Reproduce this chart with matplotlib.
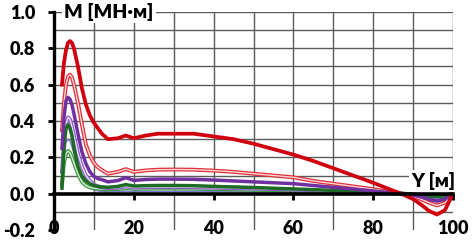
import numpy as np
import matplotlib
matplotlib.use('Agg')
import matplotlib.pyplot as plt

plt.rcParams['font.family'] = ['Lato', 'Noto Sans', 'DejaVu Sans']
plt.rcParams['font.weight'] = 'bold'

# distance along the span [m]
y_pos = [2, 2.5, 3, 3.5, 4, 4.5, 5, 6, 7, 8, 9, 10, 11, 12, 13.5, 16, 18, 20, 23, 26,
         30, 35, 40, 45, 50, 55, 60, 65, 70, 75, 80, 84, 87, 90, 92, 94, 96, 98, 99, 100]

# bending moment M [MN*m] for each load case
m_red = [0.60, 0.72, 0.79, 0.83, 0.84, 0.83, 0.80, 0.70, 0.58, 0.49, 0.43, 0.39, 0.36, 0.33,
         0.30, 0.305, 0.32, 0.305, 0.32, 0.33, 0.33, 0.33, 0.315, 0.30, 0.275, 0.245, 0.215,
         0.18, 0.14, 0.10, 0.06, 0.025, 0.0, -0.03, -0.06, -0.095, -0.115, -0.09, -0.045, 0.0]
m_red_thin = [0.35, 0.50, 0.60, 0.645, 0.655, 0.64, 0.60, 0.50, 0.38, 0.27, 0.21, 0.17, 0.145,
              0.13, 0.11, 0.12, 0.135, 0.12, 0.128, 0.132, 0.133, 0.132, 0.127, 0.12, 0.11,
              0.10, 0.09, 0.07, 0.055, 0.04, 0.025, 0.01, 0.0, -0.015, -0.03, -0.05, -0.065,
              -0.05, -0.025, 0.0]
m_purple = [0.25, 0.42, 0.51, 0.53, 0.52, 0.49, 0.44, 0.33, 0.23, 0.165, 0.12, 0.095, 0.083,
            0.077, 0.065, 0.072, 0.088, 0.073, 0.078, 0.08, 0.08, 0.079, 0.075, 0.07, 0.065,
            0.06, 0.055, 0.045, 0.035, 0.025, 0.015, 0.005, 0.0, -0.008, -0.018, -0.03, -0.04,
            -0.03, -0.015, 0.0]
m_purple_thin = [0.12, 0.28, 0.38, 0.42, 0.41, 0.37, 0.32, 0.22, 0.15, 0.10, 0.07, 0.05, 0.04,
                 0.035, 0.03, 0.033, 0.04, 0.033, 0.035, 0.036, 0.036, 0.035, 0.033, 0.03,
                 0.028, 0.025, 0.022, 0.018, 0.014, 0.01, 0.006, 0.002, 0.0, -0.01, -0.02,
                 -0.032, -0.04, -0.032, -0.018, 0.0]
m_blue = [0.08, 0.20, 0.28, 0.30, 0.29, 0.26, 0.22, 0.14, 0.08, 0.045, 0.03, 0.02, 0.015,
          0.012, 0.01, 0.011, 0.014, 0.011, 0.012, 0.012, 0.012, 0.012, 0.011, 0.01, 0.009,
          0.008, 0.007, 0.006, 0.005, 0.004, 0.003, 0.001, 0.0, -0.008, -0.015, -0.025,
          -0.03, -0.025, -0.012, 0.0]
m_green = [0.03, 0.26, 0.36, 0.38, 0.36, 0.32, 0.25, 0.15, 0.095, 0.07, 0.055, 0.045, 0.04,
           0.037, 0.035, 0.04, 0.05, 0.042, 0.044, 0.045, 0.045, 0.044, 0.04, 0.037, 0.034,
           0.03, 0.026, 0.022, 0.018, 0.014, 0.01, 0.005, 0.002, -0.003, -0.007, -0.012,
           -0.015, -0.012, -0.006, 0.0]
m_green_thin = [0.05, 0.17, 0.22, 0.235, 0.225, 0.20, 0.17, 0.11, 0.065, 0.045, 0.035, 0.03,
                0.027, 0.025, 0.023, 0.025, 0.03, 0.026, 0.027, 0.028, 0.028, 0.027, 0.025,
                0.023, 0.021, 0.019, 0.017, 0.014, 0.011, 0.008, 0.005, 0.002, 0.0, -0.004,
                -0.008, -0.013, -0.016, -0.013, -0.007, 0.0]

x_ticks = [0, 20, 40, 60, 80, 100]
y_ticks = [-0.2, 0.0, 0.2, 0.4, 0.6, 0.8, 1.0]

fig = plt.figure(figsize=(4.73, 2.4), dpi=100)
ax = fig.add_axes([54 / 473, 10 / 240, 399 / 473, 218 / 240])
ax.set_xlim(0, 100)
ax.set_ylim(-0.2, 1.0)

# grid: horizontal every 0.1, vertical every 10 (the 20-step ones stop at the axis)
for g in np.arange(-0.1, 1.01, 0.1):
    if abs(g) > 1e-6:
        ax.axhline(g, color='#5a5a5a', lw=1.0, zorder=0)
for g in range(10, 101, 10):
    if g % 20:
        ax.axvline(g, color='#5a5a5a', lw=1.0, zorder=0)
    else:
        ax.axvline(g, ymin=0.2 / 1.2, color='#5a5a5a', lw=1.0, zorder=0)


def double_line(x, y, color):
    ax.plot(x, y, color=color, lw=2.8, zorder=2)
    ax.plot(x, y, color='white', lw=1.0, alpha=0.8, zorder=2)


ax.plot(y_pos, m_blue, color='#7a78d8', lw=1.0, zorder=2)
double_line(y_pos, m_green_thin, '#3c9a3c')
double_line(y_pos, m_purple_thin, '#8a5cc8')
double_line(y_pos, m_red_thin, '#e0303a')
ax.plot(y_pos, m_green, color='#1d6b25', lw=2.5, zorder=3)
ax.plot(y_pos, m_purple, color='#7030a0', lw=2.5, zorder=3)
ax.plot(y_pos, m_red, color='#d0000f', lw=2.7, zorder=4)

for s in ['top', 'right']:
    ax.spines[s].set_visible(False)
ax.spines['left'].set_linewidth(2.4)
ax.spines['bottom'].set_position(('data', 0))
ax.spines['bottom'].set_linewidth(2.6)
ax.spines['bottom'].set_zorder(5)

ax.set_xticks(x_ticks)
ax.set_xticklabels([str(v) for v in x_ticks])
ax.set_yticks(y_ticks)
ax.set_yticklabels(['%.1f' % v for v in y_ticks])
ax.tick_params(axis='x', direction='out', length=4, width=2, pad=15, labelsize=13)
ax.tick_params(axis='y', direction='out', length=4.5, width=2, pad=9, labelsize=13)
for lab in ax.get_xticklabels() + ax.get_yticklabels():
    lab.set_fontweight('heavy')

ax.text(2.6, 1.0, 'M [МН·м]', fontsize=14, fontweight='heavy', ha='left', va='center',
        bbox=dict(facecolor='white', edgecolor='none', pad=1.5), zorder=6)
ax.text(89.5, 0.07, 'Y [м]', fontsize=14, fontweight='heavy', ha='left', va='center',
        bbox=dict(facecolor='white', edgecolor='none', pad=1.5), zorder=6, clip_on=False)

fig.savefig('out.png', dpi=100)
